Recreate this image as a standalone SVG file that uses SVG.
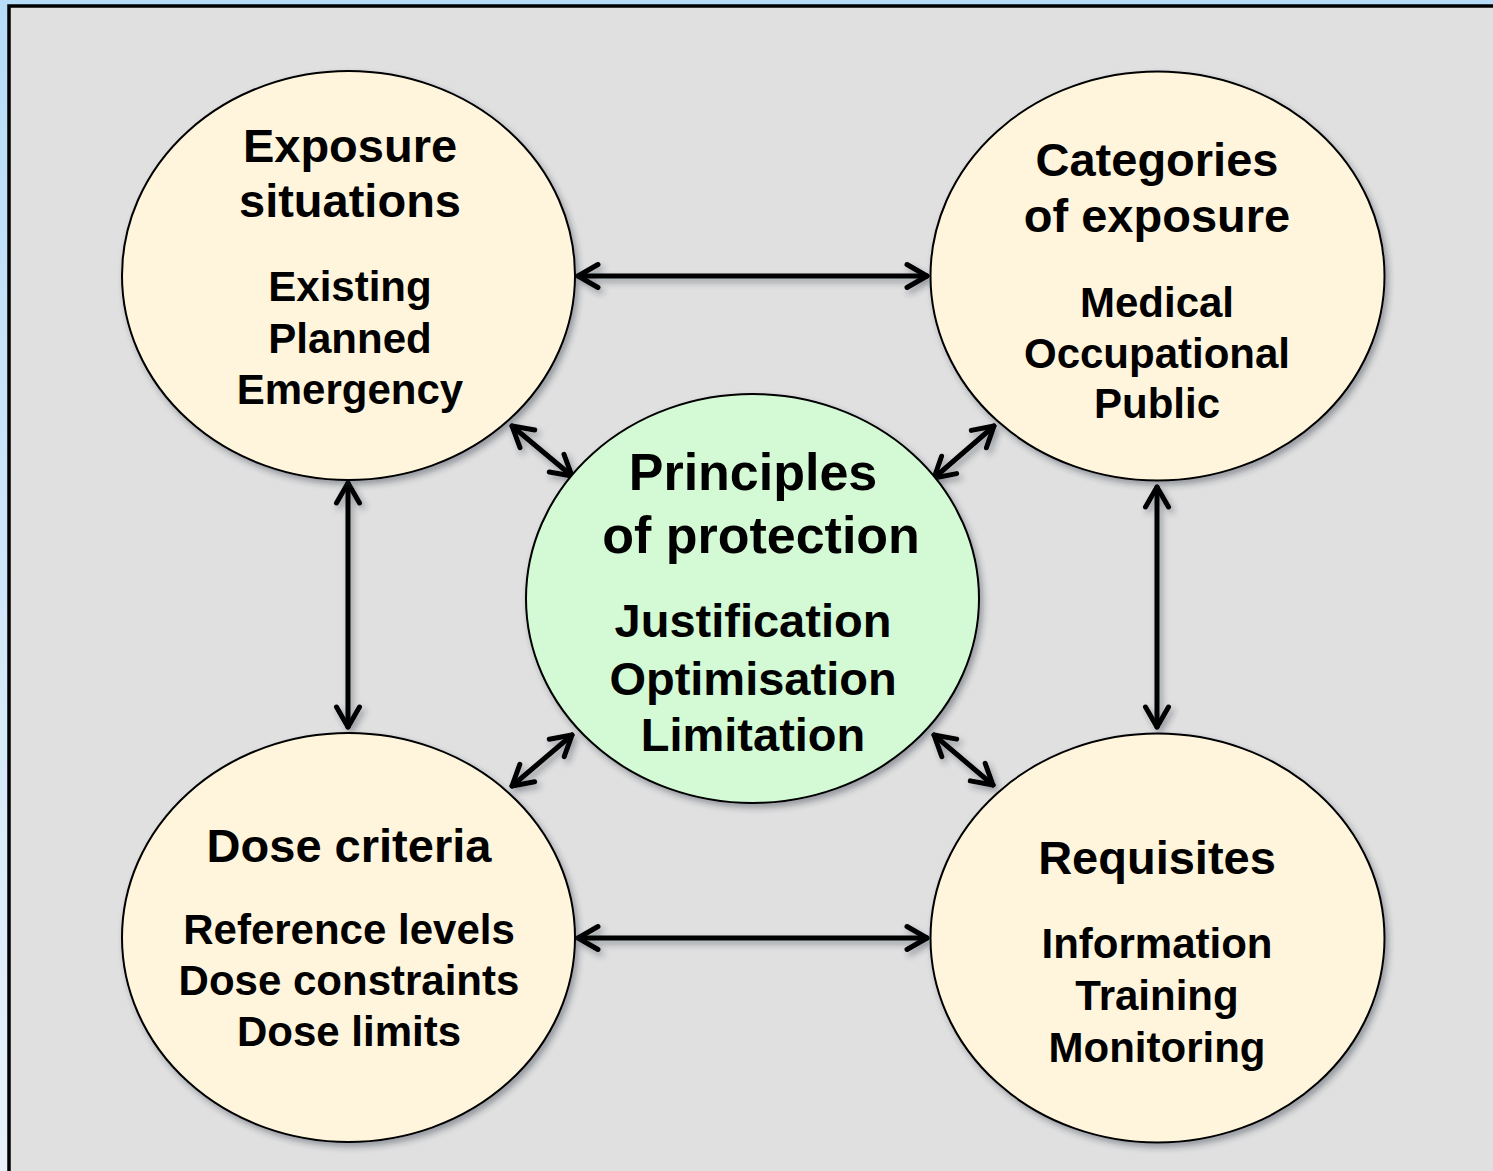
<svg xmlns="http://www.w3.org/2000/svg" width="1493" height="1171" viewBox="0 0 1493 1171">
<defs>
<linearGradient id="bg" x1="0" y1="0" x2="0" y2="1">
<stop offset="0" stop-color="#b7dcf7"/>
<stop offset="1" stop-color="#e8f1fa"/>
</linearGradient>
<filter id="sh" x="-10%" y="-10%" width="130%" height="130%">
<feDropShadow dx="3" dy="4" stdDeviation="3" flood-color="#203040" flood-opacity="0.4"/>
</filter>
<marker id="ah" markerUnits="userSpaceOnUse" viewBox="-26 -18 30 36" markerWidth="30" markerHeight="36" refX="0" refY="0" orient="auto-start-reverse">
<path d="M -20,-11.5 L 0,0 L -20,11.5" fill="none" stroke="#000" stroke-width="5" stroke-linecap="round" stroke-linejoin="round"/>
</marker>
<style>
.bub{fill:#fff5dc;stroke:#000;stroke-width:2}
.ctr{fill:#d3fad4;stroke:#000;stroke-width:2}
text{font-family:"Liberation Sans",Arial,Helvetica,sans-serif;font-weight:bold;fill:#000;text-anchor:middle}
.t{font-size:47px}
.s{font-size:42px}
.ct{font-size:52px}
.cs{font-size:47px}
.con line{stroke:#000;stroke-width:5;stroke-linecap:round;marker-start:url(#ah);marker-end:url(#ah)}
</style>
</defs>
<rect x="0" y="0" width="1493" height="1171" fill="url(#bg)"/>
<rect x="9" y="6" width="1500" height="1200" fill="#e0e0e0" stroke="#000" stroke-width="3.5"/>

<g id="connectors" class="con" filter="url(#sh)">
<line x1="578" y1="276" x2="927" y2="276"/>
<line x1="578" y1="938" x2="927" y2="938"/>
<line x1="348" y1="483" x2="348" y2="727"/>
<line x1="1157" y1="487" x2="1157" y2="727"/>
<line x1="512" y1="426" x2="572" y2="476"/>
<line x1="994" y1="426" x2="934" y2="478"/>
<line x1="512" y1="786" x2="572" y2="735"/>
<line x1="934" y1="735" x2="993" y2="785"/>
</g>

<g id="exposure-situations">
<ellipse class="bub" cx="348.5" cy="275.5" rx="226.5" ry="204.5" filter="url(#sh)"/>
<text class="t" x="350" y="162">Exposure</text>
<text class="t" x="350" y="217">situations</text>
<text class="s" x="350" y="301">Existing</text>
<text class="s" x="350" y="353">Planned</text>
<text class="s" x="350" y="404">Emergency</text>
</g>

<g id="categories-of-exposure">
<ellipse class="bub" cx="1157.5" cy="276" rx="227" ry="204.5" filter="url(#sh)"/>
<text class="t" x="1157" y="176">Categories</text>
<text class="t" x="1157" y="232">of exposure</text>
<text class="s" x="1157" y="317">Medical</text>
<text class="s" x="1157" y="368">Occupational</text>
<text class="s" x="1157" y="418">Public</text>
</g>

<g id="dose-criteria">
<ellipse class="bub" cx="348.5" cy="937.5" rx="226.5" ry="204.5" filter="url(#sh)"/>
<text class="t" x="349" y="862">Dose criteria</text>
<text class="s" x="349" y="944">Reference levels</text>
<text class="s" x="349" y="995">Dose constraints</text>
<text class="s" x="349" y="1046">Dose limits</text>
</g>

<g id="requisites">
<ellipse class="bub" cx="1157.5" cy="938" rx="227" ry="204.5" filter="url(#sh)"/>
<text class="t" x="1157" y="874">Requisites</text>
<text class="s" x="1157" y="958">Information</text>
<text class="s" x="1157" y="1010">Training</text>
<text class="s" x="1157" y="1062">Monitoring</text>
</g>

<g id="principles-of-protection">
<ellipse class="ctr" cx="752.5" cy="598.5" rx="226.5" ry="204.5" filter="url(#sh)"/>
<text class="ct" x="753" y="490">Principles</text>
<text class="ct" x="761" y="553">of protection</text>
<text class="cs" x="753" y="637">Justification</text>
<text class="cs" x="753" y="695">Optimisation</text>
<text class="cs" x="753" y="751">Limitation</text>
</g>
</svg>
